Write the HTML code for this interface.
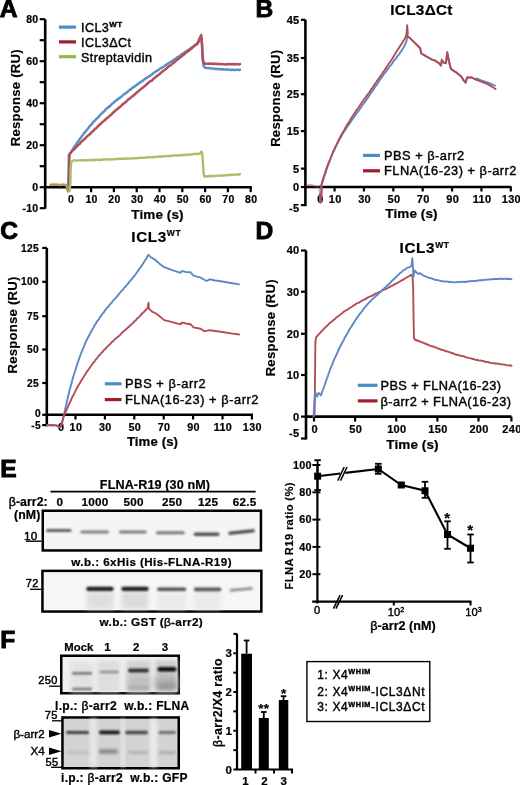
<!DOCTYPE html>
<html><head><meta charset="utf-8"><style>
html,body{margin:0;padding:0;background:#fff;width:520px;height:785px;overflow:hidden}
svg{display:block;filter:blur(0.3px)}
text{font-family:"Liberation Sans", sans-serif;fill:#000}
</style></head><body>
<svg width="520" height="785" viewBox="0 0 520 785">
<defs><filter id="b5" x="-20%" y="-200%" width="140%" height="500%"><feGaussianBlur stdDeviation="0.5"/></filter><filter id="b8" x="-20%" y="-200%" width="140%" height="500%"><feGaussianBlur stdDeviation="0.8"/></filter><filter id="b10" x="-20%" y="-200%" width="140%" height="500%"><feGaussianBlur stdDeviation="1.0"/></filter><filter id="b12" x="-20%" y="-200%" width="140%" height="500%"><feGaussianBlur stdDeviation="1.2"/></filter><filter id="b15" x="-20%" y="-200%" width="140%" height="500%"><feGaussianBlur stdDeviation="1.5"/></filter><filter id="b20" x="-20%" y="-200%" width="140%" height="500%"><feGaussianBlur stdDeviation="2.0"/></filter><filter id="b30" x="-20%" y="-200%" width="140%" height="500%"><feGaussianBlur stdDeviation="3.0"/></filter></defs>
<text x="-0.30" y="17.00" font-size="24.6" font-weight="bold" text-anchor="start" letter-spacing="0" stroke="#000" stroke-width="0.9" >A</text>
<text x="255.60" y="17.00" font-size="24.6" font-weight="bold" text-anchor="start" letter-spacing="0" stroke="#000" stroke-width="0.9" >B</text>
<text x="0.20" y="239.40" font-size="24.6" font-weight="bold" text-anchor="start" letter-spacing="0" stroke="#000" stroke-width="0.9" >C</text>
<text x="255.60" y="238.80" font-size="24.6" font-weight="bold" text-anchor="start" letter-spacing="0" stroke="#000" stroke-width="0.9" >D</text>
<text x="0.20" y="477.20" font-size="24.6" font-weight="bold" text-anchor="start" letter-spacing="0" stroke="#000" stroke-width="0.9" >E</text>
<text x="0.20" y="648.30" font-size="24.6" font-weight="bold" text-anchor="start" letter-spacing="0" stroke="#000" stroke-width="0.9" >F</text>
<line x1="45.20" y1="19.20" x2="45.20" y2="208.70" stroke="#000" stroke-width="2.6" />
<line x1="39.70" y1="208.20" x2="45.20" y2="208.20" stroke="#000" stroke-width="2.2" />
<line x1="39.70" y1="187.20" x2="45.20" y2="187.20" stroke="#000" stroke-width="2.2" />
<line x1="39.70" y1="166.20" x2="45.20" y2="166.20" stroke="#000" stroke-width="2.2" />
<line x1="39.70" y1="145.20" x2="45.20" y2="145.20" stroke="#000" stroke-width="2.2" />
<line x1="39.70" y1="124.20" x2="45.20" y2="124.20" stroke="#000" stroke-width="2.2" />
<line x1="39.70" y1="103.20" x2="45.20" y2="103.20" stroke="#000" stroke-width="2.2" />
<line x1="39.70" y1="82.20" x2="45.20" y2="82.20" stroke="#000" stroke-width="2.2" />
<line x1="39.70" y1="61.20" x2="45.20" y2="61.20" stroke="#000" stroke-width="2.2" />
<line x1="39.70" y1="40.20" x2="45.20" y2="40.20" stroke="#000" stroke-width="2.2" />
<line x1="39.70" y1="19.20" x2="45.20" y2="19.20" stroke="#000" stroke-width="2.2" />
<text x="38.50" y="22.80" font-size="10.5" font-weight="bold" text-anchor="end" letter-spacing="0.3" stroke="#000" stroke-width="0.22" >80</text>
<text x="38.50" y="64.80" font-size="10.5" font-weight="bold" text-anchor="end" letter-spacing="0.3" stroke="#000" stroke-width="0.22" >60</text>
<text x="38.50" y="106.80" font-size="10.5" font-weight="bold" text-anchor="end" letter-spacing="0.3" stroke="#000" stroke-width="0.22" >40</text>
<text x="38.50" y="148.80" font-size="10.5" font-weight="bold" text-anchor="end" letter-spacing="0.3" stroke="#000" stroke-width="0.22" >20</text>
<text x="38.50" y="190.80" font-size="10.5" font-weight="bold" text-anchor="end" letter-spacing="0.3" stroke="#000" stroke-width="0.22" >0</text>
<text x="38.50" y="211.80" font-size="10.5" font-weight="bold" text-anchor="end" letter-spacing="0.3" stroke="#000" stroke-width="0.22" >-10</text>
<line x1="45.20" y1="187.20" x2="251.80" y2="187.20" stroke="#000" stroke-width="2.6" />
<line x1="68.30" y1="187.20" x2="68.30" y2="192.20" stroke="#000" stroke-width="2.2" />
<text x="71.10" y="202.80" font-size="10.5" font-weight="bold" text-anchor="middle" letter-spacing="0.3" stroke="#000" stroke-width="0.22" >0</text>
<line x1="91.10" y1="187.20" x2="91.10" y2="192.20" stroke="#000" stroke-width="2.2" />
<text x="91.60" y="202.80" font-size="10.5" font-weight="bold" text-anchor="middle" letter-spacing="0.3" stroke="#000" stroke-width="0.22" >10</text>
<line x1="113.90" y1="187.20" x2="113.90" y2="192.20" stroke="#000" stroke-width="2.2" />
<text x="114.40" y="202.80" font-size="10.5" font-weight="bold" text-anchor="middle" letter-spacing="0.3" stroke="#000" stroke-width="0.22" >20</text>
<line x1="136.70" y1="187.20" x2="136.70" y2="192.20" stroke="#000" stroke-width="2.2" />
<text x="137.20" y="202.80" font-size="10.5" font-weight="bold" text-anchor="middle" letter-spacing="0.3" stroke="#000" stroke-width="0.22" >30</text>
<line x1="159.50" y1="187.20" x2="159.50" y2="192.20" stroke="#000" stroke-width="2.2" />
<text x="160.00" y="202.80" font-size="10.5" font-weight="bold" text-anchor="middle" letter-spacing="0.3" stroke="#000" stroke-width="0.22" >40</text>
<line x1="182.30" y1="187.20" x2="182.30" y2="192.20" stroke="#000" stroke-width="2.2" />
<text x="182.80" y="202.80" font-size="10.5" font-weight="bold" text-anchor="middle" letter-spacing="0.3" stroke="#000" stroke-width="0.22" >50</text>
<line x1="205.10" y1="187.20" x2="205.10" y2="192.20" stroke="#000" stroke-width="2.2" />
<text x="205.60" y="202.80" font-size="10.5" font-weight="bold" text-anchor="middle" letter-spacing="0.3" stroke="#000" stroke-width="0.22" >60</text>
<line x1="227.90" y1="187.20" x2="227.90" y2="192.20" stroke="#000" stroke-width="2.2" />
<text x="228.40" y="202.80" font-size="10.5" font-weight="bold" text-anchor="middle" letter-spacing="0.3" stroke="#000" stroke-width="0.22" >70</text>
<line x1="250.70" y1="187.20" x2="250.70" y2="192.20" stroke="#000" stroke-width="2.2" />
<text x="251.20" y="202.80" font-size="10.5" font-weight="bold" text-anchor="middle" letter-spacing="0.3" stroke="#000" stroke-width="0.22" >80</text>
<text x="157.50" y="219.30" font-size="13.5" font-weight="bold" text-anchor="middle" letter-spacing="0.1" stroke="#000" stroke-width="0.22" >Time (s)</text>
<text transform="translate(15.40,97.70) rotate(-90)" font-size="13.2" font-weight="bold" text-anchor="middle" dominant-baseline="central" letter-spacing="0.2" stroke="#000" stroke-width="0.15">Response (RU)</text>
<line x1="59.00" y1="27.10" x2="76.00" y2="27.10" stroke="#4a8cc8" stroke-width="3.2" />
<text x="81.00" y="32.10" font-size="12.6" font-weight="normal" text-anchor="start" letter-spacing="0.4" stroke="#000" stroke-width="0.4" >ICL3<tspan font-size="8" font-weight="bold" dy="-5">WT</tspan></text>
<line x1="59.00" y1="41.90" x2="76.00" y2="41.90" stroke="#9e1e2c" stroke-width="3.2" />
<text x="81.00" y="46.90" font-size="12.6" font-weight="normal" text-anchor="start" letter-spacing="0.4" stroke="#000" stroke-width="0.4" >ICL3ΔCt</text>
<line x1="59.00" y1="56.70" x2="76.00" y2="56.70" stroke="#93b84a" stroke-width="3.2" />
<text x="81.00" y="61.70" font-size="12.6" font-weight="normal" text-anchor="start" letter-spacing="0.4" stroke="#000" stroke-width="0.4" >Streptavidin</text>
<polyline points="67.50,189.50 68.30,191.00 68.60,175.00 68.80,162.00 68.80,155.57 69.80,154.11 70.80,152.38 71.80,150.92 72.80,149.37 73.80,147.49 74.80,145.94 75.80,144.94 76.80,143.12 77.80,141.66 78.80,140.70 79.80,138.98 80.80,137.83 81.80,136.26 82.80,135.03 83.80,133.43 84.80,132.43 85.80,131.30 86.80,129.85 87.80,128.76 88.80,127.51 89.80,125.96 90.80,125.21 91.80,123.96 92.80,122.66 93.80,121.38 94.80,120.79 95.80,119.47 96.80,118.56 97.80,117.61 98.80,116.48 99.80,115.59 100.80,114.27 101.80,113.53 102.80,112.34 103.80,111.68 104.80,110.70 105.80,109.30 106.80,108.40 107.80,107.54 108.80,107.09 109.80,105.89 110.80,105.13 111.80,104.07 112.80,103.34 113.80,102.42 114.80,101.56 115.80,100.87 116.80,100.05 117.80,99.43 118.80,98.49 119.80,97.84 120.80,97.01 121.80,96.30 122.80,95.33 123.80,94.25 124.80,93.90 125.80,93.20 126.80,92.41 127.80,91.45 128.80,90.79 129.80,89.74 130.80,89.37 131.80,88.48 132.80,87.57 133.80,86.71 134.80,86.46 135.80,85.82 136.80,84.56 137.80,84.27 138.80,83.32 139.80,82.46 140.80,81.84 141.80,81.42 142.80,80.79 143.80,79.59 144.80,79.24 145.80,78.21 146.80,77.93 147.80,77.01 148.80,76.65 149.80,76.03 150.80,75.07 151.80,74.69 152.80,73.60 153.80,72.78 154.80,72.42 155.80,71.41 156.80,70.84 157.80,70.30 158.80,69.75 159.80,68.81 160.80,68.08 161.80,67.91 162.80,66.91 163.80,66.64 164.80,65.94 165.80,64.96 166.80,64.35 167.80,63.72 168.80,63.13 169.80,62.44 170.80,61.76 171.80,61.13 172.80,60.66 173.80,59.73 174.80,59.02 175.80,58.53 176.80,57.57 177.80,56.94 178.80,56.68 179.80,55.74 180.80,55.08 181.80,54.09 182.80,53.65 183.80,53.08 184.80,52.06 185.80,51.74 186.80,51.06 187.80,50.04 188.80,49.69 189.80,48.90 190.80,48.34 191.80,47.45 192.80,46.96 193.80,46.28 194.80,45.15 195.80,44.47 196.80,44.13 197.30,43.94 199.00,41.00 200.60,37.50 201.40,37.00 202.00,45.00 202.70,60.00 203.60,66.00 205.00,67.60 205.00,67.45 206.00,67.73 207.00,67.97 208.00,67.95 209.00,68.11 210.00,68.21 211.00,68.37 212.00,68.62 213.00,68.55 214.00,68.70 215.00,69.03 216.00,68.67 217.00,69.08 218.00,69.26 219.00,69.07 220.00,69.09 221.00,69.50 222.00,69.22 223.00,69.24 224.00,69.44 225.00,69.65 226.00,69.33 227.00,69.51 228.00,69.55 229.00,69.89 230.00,69.68 231.00,69.96 232.00,69.58 233.00,69.71 234.00,69.93 235.00,70.10 236.00,69.86 237.00,69.76 238.00,69.72 239.00,69.99 240.00,69.82" fill="none" stroke="#5b90c6" stroke-width="2.5" stroke-linejoin="round" stroke-linecap="round" />
<polyline points="67.50,189.50 68.30,191.00 68.90,175.00 69.20,162.00 69.60,153.95 70.60,152.95 71.60,151.54 72.60,150.59 73.60,149.89 74.60,148.79 75.60,147.89 76.60,146.62 77.60,145.50 78.60,144.61 79.60,143.92 80.60,142.63 81.60,141.70 82.60,140.77 83.60,139.80 84.60,138.83 85.60,138.17 86.60,136.75 87.60,135.71 88.60,135.32 89.60,134.34 90.60,133.46 91.60,132.18 92.60,131.56 93.60,130.61 94.60,129.25 95.60,128.64 96.60,127.77 97.60,126.74 98.60,125.74 99.60,124.69 100.60,123.81 101.60,122.83 102.60,121.83 103.60,121.24 104.60,120.15 105.60,119.57 106.60,118.22 107.60,117.84 108.60,116.82 109.60,116.08 110.60,115.17 111.60,114.30 112.60,113.22 113.60,112.01 114.60,111.57 115.60,110.36 116.60,109.56 117.60,108.92 118.60,107.97 119.60,107.04 120.60,106.49 121.60,105.44 122.60,104.42 123.60,103.51 124.60,103.03 125.60,101.95 126.60,101.28 127.60,100.18 128.60,99.24 129.60,98.60 130.60,97.93 131.60,96.71 132.60,96.24 133.60,95.48 134.60,94.58 135.60,93.76 136.60,92.44 137.60,91.98 138.60,91.30 139.60,89.98 140.60,89.29 141.60,88.47 142.60,87.80 143.60,86.92 144.60,86.13 145.60,85.49 146.60,84.21 147.60,83.42 148.60,82.65 149.60,81.84 150.60,80.99 151.60,80.72 152.60,79.84 153.60,78.57 154.60,78.01 155.60,77.09 156.60,76.28 157.60,75.49 158.60,74.87 159.60,74.02 160.60,73.08 161.60,72.18 162.60,71.46 163.60,70.53 164.60,69.98 165.60,69.28 166.60,68.27 167.60,67.29 168.60,66.55 169.60,65.86 170.60,65.20 171.60,64.51 172.60,63.46 173.60,62.91 174.60,62.01 175.60,61.09 176.60,60.25 177.60,59.53 178.60,58.85 179.60,57.88 180.60,57.24 181.60,56.30 182.60,55.36 183.60,54.73 184.60,54.03 185.60,52.85 186.60,52.26 187.60,51.45 188.60,50.92 189.60,50.15 190.60,49.00 191.60,48.51 192.60,47.64 193.60,46.51 194.60,45.82 195.60,44.81 196.60,44.41 197.30,43.75 199.00,40.00 200.50,36.50 201.20,35.00 201.90,42.00 202.70,57.00 203.50,62.50 205.00,63.40 205.00,63.64 206.00,63.67 207.00,63.68 208.00,63.79 209.00,63.76 210.00,63.54 211.00,63.89 212.00,63.59 213.00,63.72 214.00,64.13 215.00,63.73 216.00,63.79 217.00,63.82 218.00,64.31 219.00,63.91 220.00,63.83 221.00,64.34 222.00,63.92 223.00,64.36 224.00,64.27 225.00,64.37 226.00,64.44 227.00,64.22 228.00,64.36 229.00,63.91 230.00,64.35 231.00,64.20 232.00,64.33 233.00,63.97 234.00,64.36 235.00,64.48 236.00,63.97 237.00,64.14 238.00,64.30 239.00,64.48 240.00,64.15" fill="none" stroke="#b24f58" stroke-width="2.5" stroke-linejoin="round" stroke-linecap="round" />
<polyline points="69.50,190.50 70.40,184.00 70.60,170.00 71.20,162.50 72.50,160.90 74.20,160.50 74.20,160.33 75.20,160.35 76.20,160.55 77.20,160.61 78.20,160.37 79.20,160.33 80.20,160.32 81.20,160.27 82.20,160.28 83.20,160.06 84.20,160.28 85.20,160.53 86.20,160.17 87.20,160.34 88.20,159.96 89.20,160.25 90.20,160.26 91.20,160.18 92.20,160.05 93.20,160.00 94.20,160.06 95.20,160.18 96.20,159.70 97.20,159.63 98.20,159.98 99.20,160.05 100.20,159.77 101.20,159.69 102.20,159.82 103.20,159.46 104.20,159.47 105.20,159.39 106.20,159.59 107.20,159.38 108.20,159.29 109.20,159.53 110.20,159.64 111.20,159.20 112.20,159.41 113.20,159.19 114.20,159.41 115.20,159.20 116.20,158.97 117.20,158.89 118.20,158.73 119.20,158.96 120.20,158.85 121.20,158.68 122.20,158.74 123.20,158.67 124.20,158.89 125.20,158.46 126.20,158.92 127.20,158.56 128.20,158.59 129.20,158.45 130.20,158.62 131.20,158.56 132.20,158.35 133.20,158.25 134.20,158.34 135.20,158.37 136.20,158.04 137.20,158.18 138.20,158.26 139.20,157.91 140.20,157.71 141.20,157.65 142.20,157.88 143.20,157.80 144.20,157.91 145.20,157.79 146.20,157.36 147.20,157.27 148.20,157.25 149.20,157.14 150.20,157.39 151.20,157.42 152.20,157.38 153.20,156.93 154.20,157.23 155.20,156.84 156.20,156.84 157.20,156.96 158.20,156.50 159.20,156.44 160.20,156.82 161.20,156.43 162.20,156.40 163.20,156.46 164.20,156.45 165.20,155.98 166.20,156.11 167.20,156.10 168.20,156.06 169.20,155.82 170.20,155.97 171.20,156.12 172.20,155.71 173.20,155.73 174.20,155.40 175.20,155.42 176.20,155.58 177.20,155.17 178.20,155.56 179.20,155.50 180.20,154.94 181.20,155.37 182.20,154.95 183.20,155.11 184.20,155.02 185.20,154.67 186.20,154.82 187.20,154.73 188.20,154.74 189.20,154.33 190.20,154.55 191.20,154.59 192.20,154.33 193.20,154.17 194.20,153.83 195.20,153.98 196.20,153.81 197.20,153.95 198.20,153.84 199.20,153.69 200.00,153.39 200.80,152.50 201.50,151.50 202.20,153.50 202.90,162.00 203.50,172.00 204.30,176.40 204.30,176.50 205.30,176.45 206.30,176.14 207.30,176.53 208.30,176.34 209.30,175.98 210.30,176.42 211.30,175.90 212.30,175.96 213.30,176.14 214.30,176.01 215.30,175.93 216.30,175.93 217.30,175.76 218.30,175.62 219.30,175.48 220.30,175.35 221.30,175.68 222.30,175.64 223.30,175.45 224.30,175.50 225.30,175.21 226.30,175.09 227.30,175.09 228.30,175.32 229.30,174.75 230.30,174.96 231.30,174.74 232.30,174.99 233.30,174.67 234.30,174.59 235.30,174.56 236.30,174.58 237.30,174.65 238.30,174.33 239.30,174.56 240.00,174.07" fill="none" stroke="#a8c06a" stroke-width="2.4" stroke-linejoin="round" stroke-linecap="round" />
<polyline points="50.50,184.80 55.00,184.50 60.00,184.90 64.00,184.60 66.50,185.50 67.50,189.50 68.30,191.00" fill="none" stroke="#a99d62" stroke-width="2.5" stroke-linejoin="round" stroke-linecap="round" />
<line x1="305.40" y1="19.80" x2="305.40" y2="206.10" stroke="#000" stroke-width="2.6" />
<line x1="300.90" y1="19.80" x2="305.40" y2="19.80" stroke="#000" stroke-width="2.2" />
<text x="299.50" y="23.70" font-size="11" font-weight="bold" text-anchor="end" letter-spacing="0.3" stroke="#000" stroke-width="0.22" >45</text>
<line x1="300.90" y1="58.00" x2="305.40" y2="58.00" stroke="#000" stroke-width="2.2" />
<text x="299.50" y="61.90" font-size="11" font-weight="bold" text-anchor="end" letter-spacing="0.3" stroke="#000" stroke-width="0.22" >35</text>
<line x1="300.90" y1="94.20" x2="305.40" y2="94.20" stroke="#000" stroke-width="2.2" />
<text x="299.50" y="98.10" font-size="11" font-weight="bold" text-anchor="end" letter-spacing="0.3" stroke="#000" stroke-width="0.22" >25</text>
<line x1="300.90" y1="131.10" x2="305.40" y2="131.10" stroke="#000" stroke-width="2.2" />
<text x="299.50" y="135.00" font-size="11" font-weight="bold" text-anchor="end" letter-spacing="0.3" stroke="#000" stroke-width="0.22" >15</text>
<line x1="300.90" y1="168.60" x2="305.40" y2="168.60" stroke="#000" stroke-width="2.2" />
<text x="299.50" y="172.50" font-size="11" font-weight="bold" text-anchor="end" letter-spacing="0.3" stroke="#000" stroke-width="0.22" >5</text>
<line x1="300.90" y1="187.00" x2="305.40" y2="187.00" stroke="#000" stroke-width="2.2" />
<text x="299.50" y="190.90" font-size="11" font-weight="bold" text-anchor="end" letter-spacing="0.3" stroke="#000" stroke-width="0.22" >0</text>
<line x1="300.90" y1="205.10" x2="305.40" y2="205.10" stroke="#000" stroke-width="2.2" />
<text x="299.50" y="212.30" font-size="11" font-weight="bold" text-anchor="end" letter-spacing="0.3" stroke="#000" stroke-width="0.22" >-5</text>
<line x1="305.40" y1="187.00" x2="511.50" y2="187.00" stroke="#000" stroke-width="2.6" />
<text x="320.50" y="202.60" font-size="11" font-weight="bold" text-anchor="middle" letter-spacing="0.3" stroke="#000" stroke-width="0.22" >0</text>
<line x1="334.58" y1="187.00" x2="334.58" y2="191.50" stroke="#000" stroke-width="2.2" />
<text x="335.19" y="202.60" font-size="11" font-weight="bold" text-anchor="middle" letter-spacing="0.3" stroke="#000" stroke-width="0.22" >10</text>
<line x1="363.95" y1="187.00" x2="363.95" y2="191.50" stroke="#000" stroke-width="2.2" />
<text x="364.56" y="202.60" font-size="11" font-weight="bold" text-anchor="middle" letter-spacing="0.3" stroke="#000" stroke-width="0.22" >30</text>
<line x1="393.32" y1="187.00" x2="393.32" y2="191.50" stroke="#000" stroke-width="2.2" />
<text x="393.93" y="202.60" font-size="11" font-weight="bold" text-anchor="middle" letter-spacing="0.3" stroke="#000" stroke-width="0.22" >50</text>
<line x1="422.69" y1="187.00" x2="422.69" y2="191.50" stroke="#000" stroke-width="2.2" />
<text x="423.29" y="202.60" font-size="11" font-weight="bold" text-anchor="middle" letter-spacing="0.3" stroke="#000" stroke-width="0.22" >70</text>
<line x1="452.06" y1="187.00" x2="452.06" y2="191.50" stroke="#000" stroke-width="2.2" />
<text x="452.66" y="202.60" font-size="11" font-weight="bold" text-anchor="middle" letter-spacing="0.3" stroke="#000" stroke-width="0.22" >90</text>
<line x1="481.43" y1="187.00" x2="481.43" y2="191.50" stroke="#000" stroke-width="2.2" />
<text x="482.03" y="202.60" font-size="11" font-weight="bold" text-anchor="middle" letter-spacing="0.3" stroke="#000" stroke-width="0.22" >110</text>
<line x1="510.80" y1="187.00" x2="510.80" y2="191.50" stroke="#000" stroke-width="2.2" />
<text x="511.40" y="202.60" font-size="11" font-weight="bold" text-anchor="middle" letter-spacing="0.3" stroke="#000" stroke-width="0.22" >130</text>
<text x="411.50" y="218.00" font-size="13.5" font-weight="bold" text-anchor="middle" letter-spacing="0.1" stroke="#000" stroke-width="0.22" >Time (s)</text>
<text transform="translate(275.80,98.30) rotate(-90)" font-size="13.2" font-weight="bold" text-anchor="middle" dominant-baseline="central" letter-spacing="0.2" stroke="#000" stroke-width="0.15">Response (RU)</text>
<text x="421.50" y="15.00" font-size="15.3" font-weight="bold" text-anchor="middle" letter-spacing="0.3" stroke="#000" stroke-width="0.22" >ICL3ΔCt</text>
<line x1="363.00" y1="155.40" x2="380.00" y2="155.40" stroke="#4a8cc8" stroke-width="3.2" />
<text x="384.00" y="160.00" font-size="12.8" font-weight="normal" text-anchor="start" letter-spacing="0.5" stroke="#000" stroke-width="0.4" >PBS + β-arr2</text>
<line x1="363.00" y1="170.80" x2="380.00" y2="170.80" stroke="#9e1e2c" stroke-width="3.2" />
<text x="384.00" y="175.40" font-size="12.8" font-weight="normal" text-anchor="start" letter-spacing="0.5" stroke="#000" stroke-width="0.4" >FLNA(16-23) + β-arr2</text>
<polyline points="307.00,185.20 310.60,184.70 315.00,186.20 319.20,187.60 320.00,194.00" fill="none" stroke="#b44c56" stroke-width="1.9" stroke-linejoin="round" stroke-linecap="round" opacity="0.45"/>
<polyline points="320.00,194.00 320.70,202.50 321.30,196.00 321.60,190.00 321.40,185.69 322.40,182.47 323.40,178.99 324.40,175.69 325.40,173.08 326.40,170.03 327.40,166.98 328.40,164.24 329.40,161.70 330.40,159.19 331.40,156.51 332.40,154.00 333.40,151.84 334.40,149.97 335.40,147.45 336.40,145.58 337.40,143.43 338.40,141.51 339.40,139.61 340.40,137.94 341.40,136.04 342.40,134.25 343.40,132.64 344.40,131.06 345.40,129.67 346.40,127.87 347.40,126.34 348.40,125.12 349.40,123.64 350.40,122.38 351.40,120.57 352.40,119.38 353.40,117.99 354.40,116.38 355.40,115.57 356.40,113.74 357.40,112.29 358.40,111.12 359.40,109.54 360.40,108.41 361.40,106.83 362.40,105.28 363.40,103.81 364.40,102.78 365.40,101.07 366.40,99.94 367.40,98.30 368.40,97.13 369.40,95.30 370.40,93.82 371.40,92.38 372.40,91.25 373.40,89.69 374.40,88.07 375.40,86.46 376.40,85.37 377.40,84.09 378.40,82.43 379.40,80.63 380.40,79.22 381.40,77.83 382.40,76.45 383.40,74.96 384.40,73.56 385.40,72.52 386.40,71.27 387.40,69.47 388.40,68.56 389.40,66.90 390.40,65.75 391.40,64.48 392.40,63.17 393.40,61.31 394.40,60.18 395.40,59.07 396.40,58.01 397.40,56.23 398.40,55.07 399.40,54.07 400.40,52.24 401.40,50.92 402.40,49.28 403.40,47.75 404.40,45.99 405.40,43.44 406.30,41.71 407.20,37.50 407.20,36.20 409.20,37.30 413.80,41.90 418.50,46.50 420.20,48.30 421.30,53.50 425.40,55.80 432.30,59.80 434.60,60.40 439.20,63.30 441.00,65.60 441.80,59.80 443.80,62.70 445.90,63.30 447.30,52.30 449.00,61.50 450.80,68.50 452.30,70.00 456.90,72.90 461.00,76.30 463.30,79.80 465.60,82.70 467.10,77.50 471.90,77.50 476.50,79.80 476.50,78.50 481.20,80.40 488.10,82.70 495.00,85.60" fill="none" stroke="#5c88c6" stroke-width="1.9" stroke-linejoin="round" stroke-linecap="round" />
<polyline points="320.00,194.00 320.70,202.50 321.30,196.00 321.60,190.00 321.20,185.15 322.20,181.67 323.20,178.42 324.20,175.67 325.20,172.61 326.20,169.36 327.20,166.54 328.20,163.94 329.20,161.50 330.20,159.00 331.20,156.49 332.20,154.01 333.20,151.43 334.20,149.34 335.20,147.04 336.20,145.12 337.20,143.08 338.20,140.85 339.20,138.92 340.20,137.31 341.20,134.98 342.20,133.60 343.20,131.84 344.20,130.11 345.20,128.03 346.20,126.43 347.20,124.77 348.20,123.16 349.20,121.74 350.20,119.98 351.20,118.17 352.20,116.96 353.20,115.21 354.20,113.78 355.20,112.36 356.20,110.45 357.20,109.46 358.20,107.94 359.20,106.41 360.20,105.00 361.20,103.54 362.20,101.97 363.20,100.76 364.20,99.06 365.20,97.93 366.20,96.62 367.20,95.09 368.20,93.75 369.20,92.57 370.20,91.12 371.20,89.24 372.20,88.22 373.20,86.69 374.20,84.91 375.20,83.66 376.20,82.15 377.20,80.61 378.20,79.44 379.20,78.22 380.20,76.40 381.20,75.26 382.20,73.69 383.20,71.88 384.20,70.83 385.20,69.19 386.20,67.89 387.20,66.26 388.20,64.77 389.20,63.02 390.20,61.78 391.20,60.33 392.20,58.75 393.20,56.95 394.20,55.59 395.20,53.87 396.20,52.08 397.20,50.46 398.20,48.90 399.20,47.38 400.20,45.76 401.20,44.35 402.20,42.85 403.20,41.12 404.20,39.41 405.20,37.90 405.80,36.70 406.60,33.00 407.20,25.20 407.80,33.00 407.20,36.20 409.20,37.30 413.80,41.90 418.50,46.50 420.20,48.30 421.30,53.50 425.40,55.80 432.30,59.80 434.60,60.40 439.20,63.30 441.00,65.60 441.80,59.80 443.80,62.70 445.90,63.30 447.30,52.30 449.00,61.50 450.80,68.50 452.30,70.00 456.90,72.90 461.00,76.30 463.30,79.80 465.60,82.70 467.10,77.50 471.90,77.50 476.50,79.80 481.20,81.50 488.10,84.40 495.60,89.00" fill="none" stroke="#b44c56" stroke-width="1.9" stroke-linejoin="round" stroke-linecap="round" />
<line x1="46.80" y1="247.90" x2="46.80" y2="426.30" stroke="#000" stroke-width="2.6" />
<line x1="42.20" y1="247.90" x2="46.80" y2="247.90" stroke="#000" stroke-width="2.2" />
<text x="39.00" y="251.50" font-size="10.2" font-weight="bold" text-anchor="end" letter-spacing="0.3" stroke="#000" stroke-width="0.22" >125</text>
<line x1="42.20" y1="281.80" x2="46.80" y2="281.80" stroke="#000" stroke-width="2.2" />
<text x="39.00" y="285.40" font-size="10.2" font-weight="bold" text-anchor="end" letter-spacing="0.3" stroke="#000" stroke-width="0.22" >100</text>
<line x1="42.20" y1="316.20" x2="46.80" y2="316.20" stroke="#000" stroke-width="2.2" />
<text x="39.00" y="319.80" font-size="10.2" font-weight="bold" text-anchor="end" letter-spacing="0.3" stroke="#000" stroke-width="0.22" >75</text>
<line x1="42.20" y1="349.50" x2="46.80" y2="349.50" stroke="#000" stroke-width="2.2" />
<text x="39.00" y="353.10" font-size="10.2" font-weight="bold" text-anchor="end" letter-spacing="0.3" stroke="#000" stroke-width="0.22" >50</text>
<line x1="42.20" y1="383.00" x2="46.80" y2="383.00" stroke="#000" stroke-width="2.2" />
<text x="39.00" y="386.60" font-size="10.2" font-weight="bold" text-anchor="end" letter-spacing="0.3" stroke="#000" stroke-width="0.22" >25</text>
<line x1="42.20" y1="414.80" x2="46.80" y2="414.80" stroke="#000" stroke-width="2.2" />
<text x="41.00" y="417.20" font-size="10.2" font-weight="bold" text-anchor="end" letter-spacing="0.3" stroke="#000" stroke-width="0.22" >0</text>
<line x1="42.20" y1="425.10" x2="46.80" y2="425.10" stroke="#000" stroke-width="2.2" />
<text x="41.00" y="428.70" font-size="10.2" font-weight="bold" text-anchor="end" letter-spacing="0.3" stroke="#000" stroke-width="0.22" >-5</text>
<line x1="46.80" y1="414.80" x2="253.00" y2="414.80" stroke="#000" stroke-width="2.6" />
<text x="61.20" y="430.80" font-size="10.8" font-weight="bold" text-anchor="middle" letter-spacing="0.3" stroke="#000" stroke-width="0.22" >0</text>
<line x1="75.50" y1="414.80" x2="75.50" y2="419.50" stroke="#000" stroke-width="2.2" />
<text x="75.90" y="430.80" font-size="10.8" font-weight="bold" text-anchor="middle" letter-spacing="0.3" stroke="#000" stroke-width="0.22" >10</text>
<line x1="104.90" y1="414.80" x2="104.90" y2="419.50" stroke="#000" stroke-width="2.2" />
<text x="105.30" y="430.80" font-size="10.8" font-weight="bold" text-anchor="middle" letter-spacing="0.3" stroke="#000" stroke-width="0.22" >30</text>
<line x1="134.30" y1="414.80" x2="134.30" y2="419.50" stroke="#000" stroke-width="2.2" />
<text x="134.70" y="430.80" font-size="10.8" font-weight="bold" text-anchor="middle" letter-spacing="0.3" stroke="#000" stroke-width="0.22" >50</text>
<line x1="163.70" y1="414.80" x2="163.70" y2="419.50" stroke="#000" stroke-width="2.2" />
<text x="164.10" y="430.80" font-size="10.8" font-weight="bold" text-anchor="middle" letter-spacing="0.3" stroke="#000" stroke-width="0.22" >70</text>
<line x1="193.10" y1="414.80" x2="193.10" y2="419.50" stroke="#000" stroke-width="2.2" />
<text x="193.50" y="430.80" font-size="10.8" font-weight="bold" text-anchor="middle" letter-spacing="0.3" stroke="#000" stroke-width="0.22" >90</text>
<line x1="222.50" y1="414.80" x2="222.50" y2="419.50" stroke="#000" stroke-width="2.2" />
<text x="222.90" y="430.80" font-size="10.8" font-weight="bold" text-anchor="middle" letter-spacing="0.3" stroke="#000" stroke-width="0.22" >110</text>
<line x1="251.90" y1="414.80" x2="251.90" y2="419.50" stroke="#000" stroke-width="2.2" />
<text x="252.30" y="430.80" font-size="10.8" font-weight="bold" text-anchor="middle" letter-spacing="0.3" stroke="#000" stroke-width="0.22" >130</text>
<text x="152.50" y="445.50" font-size="13.2" font-weight="bold" text-anchor="middle" letter-spacing="0.1" stroke="#000" stroke-width="0.22" >Time (s)</text>
<text transform="translate(12.30,325.00) rotate(-90)" font-size="13.2" font-weight="bold" text-anchor="middle" dominant-baseline="central" letter-spacing="0.2" stroke="#000" stroke-width="0.15">Response (RU)</text>
<text x="131.30" y="241.80" font-size="15.3" font-weight="bold" text-anchor="start" letter-spacing="0.6" stroke="#000" stroke-width="0.22" >ICL3<tspan font-size="8.5" dy="-5.5">WT</tspan></text>
<line x1="104.80" y1="383.80" x2="121.50" y2="383.80" stroke="#4a8cc8" stroke-width="3.2" />
<text x="125.00" y="388.20" font-size="12.8" font-weight="normal" text-anchor="start" letter-spacing="0.55" stroke="#000" stroke-width="0.4" >PBS + β-arr2</text>
<line x1="104.80" y1="399.60" x2="121.50" y2="399.60" stroke="#9e1e2c" stroke-width="3.2" />
<text x="125.00" y="404.00" font-size="12.8" font-weight="normal" text-anchor="start" letter-spacing="0.55" stroke="#000" stroke-width="0.4" >FLNA(16-23) + β-arr2</text>
<polyline points="47.00,425.10 50.00,425.30 54.00,425.10 57.00,425.60 59.00,426.80 60.50,427.20 61.80,424.00 63.20,418.00 63.70,416.02 64.70,411.40 65.70,406.70 66.70,402.54 67.70,397.97 68.70,393.90 69.70,389.83 70.70,386.32 71.70,382.44 72.70,378.74 73.70,375.23 74.70,372.22 75.70,368.94 76.70,365.90 77.70,362.71 78.70,359.88 79.70,356.89 80.70,354.53 81.70,351.53 82.70,349.30 83.70,347.06 84.70,344.69 85.70,342.10 86.70,340.02 87.70,338.30 88.70,336.17 89.70,334.37 90.70,332.48 91.70,330.42 92.70,328.93 93.70,327.13 94.70,325.25 95.70,323.67 96.70,321.94 97.70,320.63 98.70,319.49 99.70,317.55 100.70,316.43 101.70,314.79 102.70,313.42 103.70,312.45 104.70,310.90 105.70,309.51 106.70,308.31 107.70,307.36 108.70,306.10 109.70,304.55 110.70,303.48 111.70,302.74 112.70,301.11 113.70,300.15 114.70,298.91 115.70,297.97 116.70,296.72 117.70,295.69 118.70,294.40 119.70,293.05 120.70,291.90 121.70,290.70 122.70,290.00 123.70,288.43 124.70,287.22 125.70,286.62 126.70,284.99 127.70,284.22 128.70,282.55 129.70,281.57 130.70,280.20 131.70,279.33 132.70,277.95 133.70,276.69 134.70,275.47 135.70,274.23 136.70,272.58 137.70,271.37 138.70,269.89 139.70,268.28 140.70,267.28 141.70,265.67 142.70,264.30 143.70,262.40 144.70,261.04 145.70,259.39 146.70,257.92 147.50,256.19 148.50,254.70 150.50,257.00 154.10,259.10 160.20,264.20 164.20,267.20 172.30,270.20 180.40,272.90 181.50,271.30 183.40,271.30 186.00,272.00 190.50,272.30 193.50,275.70 200.60,277.70 206.60,281.00 209.70,279.30 215.00,280.50 220.80,281.30 230.90,283.00 239.00,284.40" fill="none" stroke="#5c88c6" stroke-width="1.9" stroke-linejoin="round" stroke-linecap="round" />
<polyline points="47.00,425.10 50.00,425.30 54.00,425.10 57.00,425.60 59.00,426.80 60.50,427.20 61.80,424.00 63.20,418.00 63.90,416.08 64.90,413.73 65.90,411.10 66.90,409.05 67.90,406.88 68.90,404.46 69.90,402.41 70.90,400.25 71.90,397.92 72.90,395.95 73.90,394.34 74.90,391.98 75.90,390.13 76.90,388.05 77.90,386.29 78.90,384.47 79.90,383.17 80.90,381.34 81.90,379.75 82.90,378.17 83.90,376.35 84.90,374.97 85.90,373.19 86.90,371.62 87.90,370.47 88.90,369.00 89.90,367.62 90.90,365.96 91.90,364.78 92.90,363.24 93.90,362.29 94.90,360.98 95.90,359.35 96.90,358.52 97.90,356.87 98.90,355.64 99.90,354.86 100.90,353.47 101.90,352.49 102.90,351.47 103.90,350.03 104.90,349.40 105.90,348.07 106.90,347.14 107.90,346.07 108.90,345.31 109.90,344.33 110.90,343.08 111.90,342.00 112.90,341.17 113.90,340.29 114.90,339.15 115.90,338.27 116.90,337.71 117.90,336.76 118.90,336.01 119.90,335.10 120.90,334.13 121.90,332.93 122.90,331.90 123.90,331.09 124.90,330.28 125.90,329.41 126.90,328.52 127.90,327.50 128.90,326.88 129.90,325.62 130.90,324.81 131.90,324.13 132.90,323.14 133.90,321.89 134.90,320.90 135.90,320.27 136.90,318.82 137.90,317.90 138.90,317.14 139.90,316.13 140.90,314.87 141.90,313.76 142.90,312.79 143.90,312.05 144.90,310.77 145.90,309.96 146.90,308.71 147.50,308.13 148.00,306.00 148.50,302.60 148.90,308.60 152.10,311.60 156.00,313.50 160.20,316.70 164.20,320.10 172.30,322.10 180.40,324.40 181.50,322.70 183.40,322.70 186.00,323.50 190.50,324.20 193.50,327.40 200.60,328.80 204.60,331.40 209.70,330.20 215.00,331.00 220.80,331.80 230.90,333.40 239.00,334.50" fill="none" stroke="#b44c56" stroke-width="1.9" stroke-linejoin="round" stroke-linecap="round" />
<line x1="306.00" y1="250.50" x2="306.00" y2="439.50" stroke="#000" stroke-width="2.6" />
<line x1="301.00" y1="250.50" x2="306.00" y2="250.50" stroke="#000" stroke-width="2.2" />
<text x="299.50" y="254.40" font-size="11" font-weight="bold" text-anchor="end" letter-spacing="0.3" stroke="#000" stroke-width="0.22" >40</text>
<line x1="301.00" y1="291.70" x2="306.00" y2="291.70" stroke="#000" stroke-width="2.2" />
<text x="299.50" y="295.60" font-size="11" font-weight="bold" text-anchor="end" letter-spacing="0.3" stroke="#000" stroke-width="0.22" >30</text>
<line x1="301.00" y1="333.80" x2="306.00" y2="333.80" stroke="#000" stroke-width="2.2" />
<text x="299.50" y="337.70" font-size="11" font-weight="bold" text-anchor="end" letter-spacing="0.3" stroke="#000" stroke-width="0.22" >20</text>
<line x1="301.00" y1="375.00" x2="306.00" y2="375.00" stroke="#000" stroke-width="2.2" />
<text x="299.50" y="378.90" font-size="11" font-weight="bold" text-anchor="end" letter-spacing="0.3" stroke="#000" stroke-width="0.22" >10</text>
<line x1="301.00" y1="416.60" x2="306.00" y2="416.60" stroke="#000" stroke-width="2.2" />
<text x="299.50" y="420.50" font-size="11" font-weight="bold" text-anchor="end" letter-spacing="0.3" stroke="#000" stroke-width="0.22" >0</text>
<line x1="301.00" y1="438.50" x2="306.00" y2="438.50" stroke="#000" stroke-width="2.2" />
<text x="299.50" y="436.90" font-size="11" font-weight="bold" text-anchor="end" letter-spacing="0.3" stroke="#000" stroke-width="0.22" >-5</text>
<line x1="306.00" y1="416.60" x2="511.50" y2="416.60" stroke="#000" stroke-width="2.6" />
<line x1="314.00" y1="416.60" x2="314.00" y2="421.50" stroke="#000" stroke-width="2.2" />
<text x="314.60" y="433.20" font-size="11" font-weight="bold" text-anchor="middle" letter-spacing="0.3" stroke="#000" stroke-width="0.22" >0</text>
<line x1="355.12" y1="416.60" x2="355.12" y2="421.50" stroke="#000" stroke-width="2.2" />
<text x="355.73" y="433.20" font-size="11" font-weight="bold" text-anchor="middle" letter-spacing="0.3" stroke="#000" stroke-width="0.22" >50</text>
<line x1="396.25" y1="416.60" x2="396.25" y2="421.50" stroke="#000" stroke-width="2.2" />
<text x="396.85" y="433.20" font-size="11" font-weight="bold" text-anchor="middle" letter-spacing="0.3" stroke="#000" stroke-width="0.22" >100</text>
<line x1="437.38" y1="416.60" x2="437.38" y2="421.50" stroke="#000" stroke-width="2.2" />
<text x="437.98" y="433.20" font-size="11" font-weight="bold" text-anchor="middle" letter-spacing="0.3" stroke="#000" stroke-width="0.22" >150</text>
<line x1="478.50" y1="416.60" x2="478.50" y2="421.50" stroke="#000" stroke-width="2.2" />
<text x="479.10" y="433.20" font-size="11" font-weight="bold" text-anchor="middle" letter-spacing="0.3" stroke="#000" stroke-width="0.22" >200</text>
<line x1="511.40" y1="416.60" x2="511.40" y2="421.50" stroke="#000" stroke-width="2.2" />
<text x="512.00" y="433.20" font-size="11" font-weight="bold" text-anchor="middle" letter-spacing="0.3" stroke="#000" stroke-width="0.22" >240</text>
<text x="412.50" y="448.80" font-size="13.5" font-weight="bold" text-anchor="middle" letter-spacing="0.1" stroke="#000" stroke-width="0.22" >Time (s)</text>
<text transform="translate(270.80,327.80) rotate(-90)" font-size="13.2" font-weight="bold" text-anchor="middle" dominant-baseline="central" letter-spacing="0.2" stroke="#000" stroke-width="0.15">Response (RU)</text>
<text x="399.60" y="253.40" font-size="15.3" font-weight="bold" text-anchor="start" letter-spacing="0.6" stroke="#000" stroke-width="0.22" >ICL3<tspan font-size="8.5" dy="-5.5">WT</tspan></text>
<line x1="357.80" y1="385.30" x2="377.50" y2="385.30" stroke="#4a8cc8" stroke-width="3.2" />
<text x="380.50" y="389.90" font-size="12.8" font-weight="normal" text-anchor="start" letter-spacing="0.4" stroke="#000" stroke-width="0.4" >PBS + FLNA(16-23)</text>
<line x1="357.80" y1="400.90" x2="377.50" y2="400.90" stroke="#9e1e2c" stroke-width="3.2" />
<text x="380.50" y="405.50" font-size="12.8" font-weight="normal" text-anchor="start" letter-spacing="0.4" stroke="#000" stroke-width="0.4" >β-arr2 + FLNA(16-23)</text>
<polyline points="314.50,415.00 314.80,400.00 315.00,380.00 315.20,360.00 315.40,342.00 316.00,337.50 317.20,336.04 318.20,334.97 319.20,333.74 320.20,332.88 321.20,331.74 322.20,330.49 323.20,329.74 324.20,328.44 325.20,327.56 326.20,326.53 327.20,325.89 328.20,324.70 329.20,323.67 330.20,322.62 331.20,321.95 332.20,321.18 333.20,320.34 334.20,319.63 335.20,318.73 336.20,317.57 337.20,316.69 338.20,316.27 339.20,315.51 340.20,314.58 341.20,314.02 342.20,313.12 343.20,312.23 344.20,311.45 345.20,310.66 346.20,310.35 347.20,309.82 348.20,309.17 349.20,308.25 350.20,307.72 351.20,307.25 352.20,306.56 353.20,305.81 354.20,305.10 355.20,304.56 356.20,303.77 357.20,303.20 358.20,302.92 359.20,302.55 360.20,301.72 361.20,301.09 362.20,300.51 363.20,300.04 364.20,299.71 365.20,298.98 366.20,298.76 367.20,297.76 368.20,297.34 369.20,296.96 370.20,296.39 371.20,296.15 372.20,295.64 373.20,295.21 374.20,294.52 375.20,293.68 376.20,293.52 377.20,293.02 378.20,292.49 379.20,291.88 380.20,291.66 381.20,291.29 382.20,290.32 383.20,290.17 384.20,289.50 385.20,289.10 386.20,288.84 387.20,288.38 388.20,287.70 389.20,286.93 390.20,286.86 391.20,285.91 392.20,285.52 393.20,285.28 394.20,284.45 395.20,283.90 396.20,283.78 397.20,283.24 398.20,282.33 399.20,281.83 400.20,281.21 401.20,280.56 402.20,280.06 403.20,279.93 404.20,278.80 405.20,278.30 406.20,277.69 407.20,277.01 408.20,276.66 409.20,276.16 410.20,275.58 411.20,274.81 411.60,274.66 412.60,277.00 413.20,290.00 413.60,320.00 414.00,338.50 415.60,340.20 415.60,339.50 416.60,340.08 417.60,340.90 418.60,340.77 419.60,341.30 420.60,341.83 421.60,342.10 422.60,342.66 423.60,342.76 424.60,343.27 425.60,344.09 426.60,343.99 427.60,344.83 428.60,344.77 429.60,345.64 430.60,345.83 431.60,346.19 432.60,346.25 433.60,346.57 434.60,347.36 435.60,347.37 436.60,347.74 437.60,348.48 438.60,348.86 439.60,348.72 440.60,349.61 441.60,349.70 442.60,349.95 443.60,350.13 444.60,350.64 445.60,351.33 446.60,351.23 447.60,351.47 448.60,351.81 449.60,352.12 450.60,352.57 451.60,353.22 452.60,353.03 453.60,353.41 454.60,354.16 455.60,354.50 456.60,354.79 457.60,354.65 458.60,355.00 459.60,355.65 460.60,355.66 461.60,356.07 462.60,356.12 463.60,356.22 464.60,356.69 465.60,357.20 466.60,357.49 467.60,357.62 468.60,357.82 469.60,358.12 470.60,358.31 471.60,358.62 472.60,359.04 473.60,358.91 474.60,359.38 475.60,359.82 476.60,360.00 477.60,359.83 478.60,360.52 479.60,360.67 480.60,360.48 481.60,360.75 482.60,360.93 483.60,361.04 484.60,361.80 485.60,361.66 486.60,362.13 487.60,361.87 488.60,361.99 489.60,362.69 490.60,362.82 491.60,363.12 492.60,363.10 493.60,363.18 494.60,363.48 495.60,363.24 496.60,363.67 497.60,363.76 498.60,363.73 499.60,364.15 500.60,364.12 501.60,364.37 502.60,364.42 503.60,364.51 504.60,364.66 505.60,364.93 506.60,365.27 507.60,365.35 508.60,365.42 509.60,365.50 510.60,365.27 511.50,365.77" fill="none" stroke="#b44c56" stroke-width="1.9" stroke-linejoin="round" stroke-linecap="round" />
<polyline points="313.50,416.60 314.20,405.00 315.00,392.20 316.00,394.00 317.20,396.60 318.30,393.30 319.40,393.30 320.90,395.50 322.50,391.00 324.90,384.47 325.90,381.30 326.90,378.54 327.90,375.80 328.90,372.77 329.90,370.26 330.90,367.43 331.90,365.31 332.90,362.55 333.90,360.19 334.90,357.91 335.90,355.88 336.90,353.76 337.90,351.36 338.90,349.23 339.90,347.31 340.90,345.00 341.90,343.27 342.90,341.61 343.90,339.69 344.90,337.41 345.90,336.07 346.90,334.00 347.90,332.61 348.90,330.52 349.90,328.74 350.90,327.28 351.90,325.86 352.90,323.99 353.90,322.69 354.90,321.07 355.90,319.37 356.90,317.86 357.90,316.56 358.90,315.09 359.90,313.71 360.90,312.54 361.90,311.37 362.90,309.93 363.90,308.43 364.90,307.27 365.90,306.19 366.90,305.19 367.90,303.79 368.90,302.67 369.90,301.75 370.90,300.69 371.90,299.52 372.90,298.83 373.90,298.08 374.90,296.89 375.90,296.06 376.90,295.18 377.90,294.26 378.90,293.38 379.90,292.19 380.90,291.43 381.90,290.19 382.90,289.74 383.90,288.54 384.90,287.70 385.90,287.04 386.90,285.76 387.90,284.78 388.90,284.23 389.90,283.15 390.90,281.89 391.90,280.88 392.90,280.10 393.90,278.90 394.90,278.40 395.90,277.03 396.90,276.10 397.90,275.21 398.90,274.34 399.90,273.37 400.90,272.60 401.90,271.77 402.90,270.83 403.90,269.87 404.90,269.69 405.90,268.87 406.90,267.92 407.90,267.62 408.90,267.37 409.90,267.15 410.80,266.34 411.60,265.00 412.30,258.30 413.00,268.00 413.40,277.10 414.50,270.50 416.00,272.00 417.80,273.80 420.60,273.30 420.60,273.65 421.60,274.46 422.60,274.94 423.60,275.71 424.60,276.13 425.60,276.28 426.60,276.76 427.60,277.27 428.60,277.84 429.60,277.79 430.60,278.26 431.60,278.41 432.60,279.05 433.60,278.98 434.60,279.81 435.60,279.82 436.60,280.10 437.60,280.03 438.60,280.34 439.60,280.68 440.60,281.10 441.60,281.07 442.60,281.08 443.60,281.64 444.60,281.57 445.60,281.61 446.60,281.52 447.60,281.66 448.60,282.10 449.60,281.71 450.60,282.01 451.60,282.11 452.60,281.98 453.60,282.25 454.60,282.35 455.60,282.33 456.60,282.25 457.60,281.92 458.60,281.82 459.60,282.01 460.60,281.90 461.60,281.79 462.60,282.15 463.60,281.70 464.60,282.00 465.60,282.01 466.60,281.44 467.60,281.84 468.60,281.45 469.60,281.26 470.60,281.15 471.60,280.97 472.60,281.15 473.60,280.99 474.60,281.17 475.60,281.05 476.60,280.48 477.60,280.59 478.60,280.47 479.60,280.24 480.60,280.18 481.60,280.08 482.60,280.24 483.60,279.92 484.60,279.68 485.60,279.65 486.60,279.68 487.60,279.66 488.60,279.38 489.60,279.56 490.60,279.19 491.60,279.38 492.60,279.27 493.60,278.94 494.60,279.21 495.60,278.94 496.60,278.97 497.60,278.96 498.60,278.94 499.60,278.79 500.60,278.53 501.60,278.95 502.60,278.98 503.60,278.76 504.60,278.82 505.60,278.65 506.60,279.05 507.60,278.96 508.60,278.73 509.60,279.15 510.60,279.31 511.50,279.00" fill="none" stroke="#5c88c6" stroke-width="1.9" stroke-linejoin="round" stroke-linecap="round" />
<text x="155.00" y="488.60" font-size="12.6" font-weight="bold" text-anchor="middle" letter-spacing="0.12" stroke="#000" stroke-width="0.22" >FLNA-R19 (30 nM)</text>
<line x1="50.50" y1="491.60" x2="255.60" y2="491.60" stroke="#000" stroke-width="1.6" />
<text x="8.80" y="506.00" font-size="12.3" font-weight="bold" text-anchor="start" letter-spacing="0.05" stroke="#000" stroke-width="0.22" ><tspan font-weight="normal" stroke-width="0.45">β</tspan>-arr2:</text>
<text x="59.80" y="506.30" font-size="11.7" font-weight="bold" text-anchor="middle" letter-spacing="0.25" stroke="#000" stroke-width="0.22" >0</text>
<text x="95.00" y="506.30" font-size="11.7" font-weight="bold" text-anchor="middle" letter-spacing="0.25" stroke="#000" stroke-width="0.22" >1000</text>
<text x="133.70" y="506.30" font-size="11.7" font-weight="bold" text-anchor="middle" letter-spacing="0.25" stroke="#000" stroke-width="0.22" >500</text>
<text x="172.20" y="506.30" font-size="11.7" font-weight="bold" text-anchor="middle" letter-spacing="0.25" stroke="#000" stroke-width="0.22" >250</text>
<text x="208.10" y="506.30" font-size="11.7" font-weight="bold" text-anchor="middle" letter-spacing="0.25" stroke="#000" stroke-width="0.22" >125</text>
<text x="244.60" y="506.30" font-size="11.7" font-weight="bold" text-anchor="middle" letter-spacing="0.25" stroke="#000" stroke-width="0.22" >62.5</text>
<text x="14.00" y="518.80" font-size="12.3" font-weight="bold" text-anchor="start" letter-spacing="0.1" stroke="#000" stroke-width="0.22" >(nM)</text>
<rect x="42.75" y="510.75" width="218.20" height="39.70" fill="#f5f5f5" stroke="#000" stroke-width="2.5"/>
<rect x="46.0" y="529.1" width="25.5" height="3.0" rx="1.5" fill="rgb(90,90,90)" opacity="1.0" filter="url(#b10)"/>
<rect x="80.4" y="530.5" width="28.6" height="3.0" rx="1.5" fill="rgb(125,125,125)" opacity="1.0" filter="url(#b10)"/>
<rect x="119.0" y="530.5" width="27.7" height="3.0" rx="1.5" fill="rgb(120,120,120)" opacity="1.0" filter="url(#b10)"/>
<rect x="156.0" y="531.2" width="28.8" height="3.0" rx="1.5" fill="rgb(118,118,118)" opacity="1.0" filter="url(#b10)"/>
<rect x="193.7" y="532.5" width="25.8" height="3.4" rx="1.7" fill="rgb(80,80,80)" opacity="1.0" filter="url(#b10)"/>
<path d="M228.6,531.7 L254.5,529.1 L254.5,532.3 L228.6,534.9 Z" fill="rgb(70,70,70)" opacity="1.0" filter="url(#b10)"/>
<text x="37.80" y="539.60" font-size="11.8" font-weight="normal" text-anchor="end" letter-spacing="0.4" stroke="#000" stroke-width="0.45" >10</text>
<line x1="26.00" y1="541.20" x2="41.50" y2="541.20" stroke="#000" stroke-width="1.4" />
<text x="151.60" y="566.40" font-size="11.6" font-weight="bold" text-anchor="middle" letter-spacing="0.45" stroke="#000" stroke-width="0.22" >w.b.: 6xHis (His-FLNA-R19)</text>
<rect x="42.45" y="570.85" width="218.90" height="40.70" fill="#f6f6f6" stroke="#000" stroke-width="2.5"/>
<rect x="86.5" y="592" width="27.0" height="17" fill="rgb(222,222,222)" filter="url(#b20)"/>
<rect x="121.5" y="592" width="27.0" height="17" fill="rgb(220,220,220)" filter="url(#b20)"/>
<rect x="157" y="592" width="29" height="17" fill="rgb(234,234,234)" filter="url(#b20)"/>
<rect x="194" y="592" width="27" height="17" fill="rgb(234,234,234)" filter="url(#b20)"/>
<rect x="86.2" y="586.7" width="27.5" height="4.2" rx="2.1" fill="rgb(30,30,30)" opacity="1.0" filter="url(#b10)"/>
<rect x="121.2" y="586.7" width="27.5" height="4.2" rx="2.1" fill="rgb(30,30,30)" opacity="1.0" filter="url(#b10)"/>
<rect x="157.0" y="587.4" width="29.2" height="3.6" rx="1.8" fill="rgb(80,80,80)" opacity="1.0" filter="url(#b10)"/>
<rect x="193.8" y="587.6" width="27.5" height="3.6" rx="1.8" fill="rgb(82,82,82)" opacity="1.0" filter="url(#b10)"/>
<path d="M230.0,589.0 L252.5,587.0 L252.5,589.8 L230.0,591.8 Z" fill="rgb(140,140,140)" opacity="1.0" filter="url(#b10)"/>
<text x="38.80" y="587.00" font-size="11" font-weight="normal" text-anchor="end" letter-spacing="0.4" stroke="#000" stroke-width="0.45" >72</text>
<line x1="30.00" y1="589.30" x2="41.20" y2="589.30" stroke="#000" stroke-width="1.3" />
<text x="151.30" y="626.00" font-size="11.8" font-weight="bold" text-anchor="middle" letter-spacing="0.3" stroke="#000" stroke-width="0.22" >w.b.: GST (<tspan font-weight="normal" stroke-width="0.45">β</tspan>-arr2)</text>
<line x1="317.40" y1="465.00" x2="317.40" y2="603.50" stroke="#000" stroke-width="2.2" />
<line x1="312.40" y1="465.00" x2="320.40" y2="465.00" stroke="#000" stroke-width="2" />
<text x="311.80" y="468.80" font-size="10.8" font-weight="bold" text-anchor="end" letter-spacing="0.3" stroke="#000" stroke-width="0.22" >100</text>
<line x1="312.40" y1="492.30" x2="320.40" y2="492.30" stroke="#000" stroke-width="2" />
<text x="311.80" y="496.10" font-size="10.8" font-weight="bold" text-anchor="end" letter-spacing="0.3" stroke="#000" stroke-width="0.22" >80</text>
<line x1="312.40" y1="519.60" x2="320.40" y2="519.60" stroke="#000" stroke-width="2" />
<text x="311.80" y="523.40" font-size="10.8" font-weight="bold" text-anchor="end" letter-spacing="0.3" stroke="#000" stroke-width="0.22" >60</text>
<line x1="312.40" y1="546.90" x2="320.40" y2="546.90" stroke="#000" stroke-width="2" />
<text x="311.80" y="550.70" font-size="10.8" font-weight="bold" text-anchor="end" letter-spacing="0.3" stroke="#000" stroke-width="0.22" >40</text>
<line x1="312.40" y1="574.20" x2="320.40" y2="574.20" stroke="#000" stroke-width="2" />
<text x="311.80" y="578.00" font-size="10.8" font-weight="bold" text-anchor="end" letter-spacing="0.3" stroke="#000" stroke-width="0.22" >20</text>
<line x1="312.20" y1="601.60" x2="471.50" y2="601.60" stroke="#000" stroke-width="2.3" />
<line x1="393.80" y1="601.60" x2="393.80" y2="605.50" stroke="#000" stroke-width="2" />
<line x1="470.50" y1="601.60" x2="470.50" y2="605.50" stroke="#000" stroke-width="2" />
<line x1="333.40" y1="608.60" x2="340.10" y2="595.10" stroke="#000" stroke-width="1.5" />
<line x1="335.90" y1="608.60" x2="342.60" y2="595.10" stroke="#000" stroke-width="1.5" />
<text x="317.10" y="614.20" font-size="11.2" font-weight="normal" text-anchor="middle" letter-spacing="0" stroke="#000" stroke-width="0.4" >0</text>
<text x="396.00" y="616.40" font-size="11.2" font-weight="normal" text-anchor="middle" letter-spacing="0" stroke="#000" stroke-width="0.4" >10<tspan font-size="7.2" dy="-4.5">2</tspan></text>
<text x="473.50" y="616.40" font-size="11.2" font-weight="normal" text-anchor="middle" letter-spacing="0" stroke="#000" stroke-width="0.4" >10<tspan font-size="7.2" dy="-4.5">3</tspan></text>
<text x="403.00" y="629.50" font-size="12.6" font-weight="bold" text-anchor="middle" letter-spacing="0" stroke="#000" stroke-width="0.22" ><tspan font-weight="normal" stroke-width="0.45">β</tspan>-arr2 (nM)</text>
<text transform="translate(289.30,535.80) rotate(-90)" font-size="11.2" font-weight="bold" text-anchor="middle" dominant-baseline="central" letter-spacing="0.35" stroke="#000" stroke-width="0.15">FLNA R19 ratio (%)</text>
<polyline points="378.3,469 401.25,485 425,490.75 447.5,534.5 470.5,548.25" fill="none" stroke="#000" stroke-width="2.1"/>
<line x1="317.60" y1="476.20" x2="340.30" y2="473.51" stroke="#000" stroke-width="2.1" />
<line x1="345.30" y1="472.91" x2="378.30" y2="469.00" stroke="#000" stroke-width="2.1" />
<line x1="337.80" y1="480.60" x2="344.20" y2="467.00" stroke="#000" stroke-width="1.5" />
<line x1="340.60" y1="480.60" x2="347.00" y2="467.00" stroke="#000" stroke-width="1.5" />
<line x1="317.60" y1="460.20" x2="317.60" y2="490.00" stroke="#000" stroke-width="1.8" />
<line x1="314.30" y1="460.20" x2="320.90" y2="460.20" stroke="#000" stroke-width="1.8" />
<line x1="314.30" y1="490.00" x2="320.90" y2="490.00" stroke="#000" stroke-width="1.8" />
<line x1="378.30" y1="463.80" x2="378.30" y2="473.80" stroke="#000" stroke-width="1.8" />
<line x1="375.00" y1="463.80" x2="381.60" y2="463.80" stroke="#000" stroke-width="1.8" />
<line x1="375.00" y1="473.80" x2="381.60" y2="473.80" stroke="#000" stroke-width="1.8" />
<line x1="401.25" y1="483.00" x2="401.25" y2="487.00" stroke="#000" stroke-width="1.8" />
<line x1="397.95" y1="483.00" x2="404.55" y2="483.00" stroke="#000" stroke-width="1.8" />
<line x1="397.95" y1="487.00" x2="404.55" y2="487.00" stroke="#000" stroke-width="1.8" />
<line x1="425.00" y1="481.80" x2="425.00" y2="497.80" stroke="#000" stroke-width="1.8" />
<line x1="421.70" y1="481.80" x2="428.30" y2="481.80" stroke="#000" stroke-width="1.8" />
<line x1="421.70" y1="497.80" x2="428.30" y2="497.80" stroke="#000" stroke-width="1.8" />
<line x1="447.50" y1="521.30" x2="447.50" y2="548.80" stroke="#000" stroke-width="1.8" />
<line x1="444.20" y1="521.30" x2="450.80" y2="521.30" stroke="#000" stroke-width="1.8" />
<line x1="444.20" y1="548.80" x2="450.80" y2="548.80" stroke="#000" stroke-width="1.8" />
<line x1="470.50" y1="534.50" x2="470.50" y2="562.50" stroke="#000" stroke-width="1.8" />
<line x1="467.20" y1="534.50" x2="473.80" y2="534.50" stroke="#000" stroke-width="1.8" />
<line x1="467.20" y1="562.50" x2="473.80" y2="562.50" stroke="#000" stroke-width="1.8" />
<rect x="314.10" y="472.70" width="7" height="7" fill="#000"/>
<rect x="374.80" y="465.50" width="7" height="7" fill="#000"/>
<rect x="397.75" y="481.50" width="7" height="7" fill="#000"/>
<rect x="421.50" y="487.25" width="7" height="7" fill="#000"/>
<rect x="444.00" y="531.00" width="7" height="7" fill="#000"/>
<rect x="467.00" y="544.75" width="7" height="7" fill="#000"/>
<text x="447.30" y="522.50" font-size="15" font-weight="bold" text-anchor="middle" letter-spacing="0.3" stroke="#000" stroke-width="0.22" >*</text>
<text x="470.30" y="535.00" font-size="15" font-weight="bold" text-anchor="middle" letter-spacing="0.3" stroke="#000" stroke-width="0.22" >*</text>
<text x="78.80" y="651.30" font-size="11.3" font-weight="bold" text-anchor="middle" letter-spacing="0" stroke="#000" stroke-width="0.22" >Mock</text>
<text x="107.50" y="651.30" font-size="11.5" font-weight="bold" text-anchor="middle" letter-spacing="0" stroke="#000" stroke-width="0.22" >1</text>
<text x="136.30" y="651.30" font-size="11.5" font-weight="bold" text-anchor="middle" letter-spacing="0" stroke="#000" stroke-width="0.22" >2</text>
<text x="165.00" y="651.30" font-size="11.5" font-weight="bold" text-anchor="middle" letter-spacing="0" stroke="#000" stroke-width="0.22" >3</text>
<rect x="61.25" y="655.75" width="117.50" height="37.50" fill="#f1f1f1" stroke="#000" stroke-width="2.5"/>
<rect x="70" y="662" width="24" height="30" fill="rgb(226,226,226)" filter="url(#b20)"/>
<rect x="97" y="660" width="23" height="32" fill="rgb(222,222,222)" filter="url(#b20)"/>
<rect x="126" y="660" width="25" height="32" fill="rgb(212,212,212)" filter="url(#b20)"/>
<rect x="155" y="660" width="22" height="32" fill="rgb(204,204,204)" filter="url(#b20)"/>
<rect x="128" y="676" width="22" height="14" fill="rgb(190,190,190)" filter="url(#b30)"/>
<rect x="156" y="676" width="21" height="14" fill="rgb(175,175,175)" filter="url(#b30)"/>
<rect x="72.0" y="672.3" width="20.0" height="2.2" rx="1.1" fill="rgb(100,100,100)" opacity="1.0" filter="url(#b10)"/>
<rect x="72.0" y="687.8" width="20.0" height="2.4" rx="1.2" fill="rgb(120,120,120)" opacity="1.0" filter="url(#b10)"/>
<rect x="99.5" y="670.7" width="19.0" height="2.6" rx="1.3" fill="rgb(140,140,140)" opacity="1.0" filter="url(#b12)"/>
<rect x="128.0" y="668.6" width="21.0" height="4.0" rx="2.0" fill="rgb(48,48,48)" opacity="1.0" filter="url(#b12)"/>
<rect x="128.0" y="686.5" width="21.0" height="3.0" rx="1.5" fill="rgb(165,165,165)" opacity="1.0" filter="url(#b15)"/>
<rect x="157.5" y="667.1" width="19.0" height="4.4" rx="2.2" fill="rgb(12,12,12)" opacity="1.0" filter="url(#b10)"/>
<rect x="157.5" y="684.2" width="18.5" height="4.0" rx="2.0" fill="rgb(140,140,140)" opacity="1.0" filter="url(#b20)"/>
<text x="57.70" y="684.20" font-size="11" font-weight="normal" text-anchor="end" letter-spacing="0.4" stroke="#000" stroke-width="0.45" >250</text>
<line x1="49.00" y1="686.20" x2="60.00" y2="686.20" stroke="#000" stroke-width="1.3" />
<text x="122.20" y="710.00" font-size="12" font-weight="bold" text-anchor="middle" letter-spacing="0.3" stroke="#000" stroke-width="0.22" xml:space="preserve">l.p.: <tspan font-weight="normal" stroke-width="0.45">β</tspan>-arr2  w.b.: FLNA</text>
<rect x="62.45" y="717.45" width="116.30" height="50.80" fill="#d3d3d3" stroke="#000" stroke-width="2.5"/>
<rect x="90" y="719" width="7" height="48" fill="rgb(232,232,232)" filter="url(#b20)"/>
<rect x="121" y="719" width="4" height="48" fill="rgb(232,232,232)" filter="url(#b20)"/>
<rect x="150" y="719" width="7" height="48" fill="rgb(236,236,236)" filter="url(#b20)"/>
<rect x="66.0" y="731.1" width="23.0" height="2.8" rx="1.4" fill="rgb(62,62,62)" opacity="1.0" filter="url(#b10)"/>
<rect x="99.0" y="730.6" width="21.0" height="3.6" rx="1.8" fill="rgb(18,18,18)" opacity="1.0" filter="url(#b10)"/>
<rect x="98.5" y="749.2" width="19.5" height="4.6" rx="2.3" fill="rgb(135,135,135)" opacity="1.0" filter="url(#b15)"/>
<rect x="125.0" y="730.8" width="23.0" height="3.4" rx="1.7" fill="rgb(70,70,70)" opacity="1.0" filter="url(#b12)"/>
<rect x="128.0" y="751.0" width="20.0" height="3.0" rx="1.5" fill="rgb(175,175,175)" opacity="1.0" filter="url(#b15)"/>
<rect x="158.5" y="730.9" width="17.5" height="3.2" rx="1.6" fill="rgb(110,110,110)" opacity="1.0" filter="url(#b12)"/>
<rect x="158.5" y="751.0" width="17.5" height="3.0" rx="1.5" fill="rgb(170,170,170)" opacity="1.0" filter="url(#b15)"/>
<rect x="67.0" y="751.0" width="22.0" height="3.0" rx="1.5" fill="rgb(190,190,190)" opacity="1.0" filter="url(#b15)"/>
<text x="57.70" y="718.80" font-size="11" font-weight="normal" text-anchor="end" letter-spacing="0.4" stroke="#000" stroke-width="0.45" >75</text>
<line x1="52.00" y1="720.80" x2="62.00" y2="720.80" stroke="#000" stroke-width="1.3" />
<text x="58.50" y="765.80" font-size="11" font-weight="normal" text-anchor="end" letter-spacing="0.4" stroke="#000" stroke-width="0.45" >55</text>
<line x1="51.00" y1="767.30" x2="62.00" y2="767.30" stroke="#000" stroke-width="1.3" />
<text x="44.60" y="738.20" font-size="11.6" font-weight="normal" text-anchor="end" letter-spacing="0" stroke="#000" stroke-width="0.4" >β-arr2</text>
<text x="44.60" y="755.40" font-size="11.6" font-weight="normal" text-anchor="end" letter-spacing="0" stroke="#000" stroke-width="0.4" >X4</text>
<polygon points="49,730 61.5,733.8 49,737.6" fill="#000"/>
<polygon points="49,747.4 61.5,751.2 49,755" fill="#000"/>
<text x="124.40" y="781.50" font-size="12" font-weight="bold" text-anchor="middle" letter-spacing="0.3" stroke="#000" stroke-width="0.22" xml:space="preserve">i.p.: <tspan font-weight="normal" stroke-width="0.45">β</tspan>-arr2  w.b.: GFP</text>
<line x1="237.00" y1="633.70" x2="237.00" y2="769.50" stroke="#000" stroke-width="2.2" />
<line x1="233.40" y1="769.50" x2="237.00" y2="769.50" stroke="#000" stroke-width="2" />
<line x1="233.40" y1="750.12" x2="237.00" y2="750.12" stroke="#000" stroke-width="2" />
<line x1="233.40" y1="730.75" x2="237.00" y2="730.75" stroke="#000" stroke-width="2" />
<line x1="233.40" y1="711.38" x2="237.00" y2="711.38" stroke="#000" stroke-width="2" />
<line x1="233.40" y1="692.00" x2="237.00" y2="692.00" stroke="#000" stroke-width="2" />
<line x1="233.40" y1="672.62" x2="237.00" y2="672.62" stroke="#000" stroke-width="2" />
<line x1="233.40" y1="653.25" x2="237.00" y2="653.25" stroke="#000" stroke-width="2" />
<line x1="233.40" y1="633.88" x2="237.00" y2="633.88" stroke="#000" stroke-width="2" />
<text x="231.80" y="773.60" font-size="11.5" font-weight="bold" text-anchor="end" letter-spacing="0" stroke="#000" stroke-width="0.22" >0</text>
<text x="231.80" y="734.85" font-size="11.5" font-weight="bold" text-anchor="end" letter-spacing="0" stroke="#000" stroke-width="0.22" >1</text>
<text x="231.80" y="696.10" font-size="11.5" font-weight="bold" text-anchor="end" letter-spacing="0" stroke="#000" stroke-width="0.22" >2</text>
<text x="231.80" y="657.35" font-size="11.5" font-weight="bold" text-anchor="end" letter-spacing="0" stroke="#000" stroke-width="0.22" >3</text>
<line x1="237.00" y1="769.50" x2="293.00" y2="769.50" stroke="#000" stroke-width="2.2" />
<line x1="255.50" y1="769.50" x2="255.50" y2="773.50" stroke="#000" stroke-width="2" />
<line x1="274.00" y1="769.50" x2="274.00" y2="773.50" stroke="#000" stroke-width="2" />
<line x1="292.00" y1="769.50" x2="292.00" y2="773.50" stroke="#000" stroke-width="2" />
<line x1="246.60" y1="653.70" x2="246.60" y2="640.50" stroke="#000" stroke-width="1.8" />
<line x1="243.80" y1="640.50" x2="249.40" y2="640.50" stroke="#000" stroke-width="1.8" />
<rect x="241.2" y="653.7" width="10.800000000000011" height="115.79999999999995" fill="#000"/>
<line x1="263.80" y1="718.00" x2="263.80" y2="712.00" stroke="#000" stroke-width="1.8" />
<line x1="261.00" y1="712.00" x2="266.60" y2="712.00" stroke="#000" stroke-width="1.8" />
<rect x="258.8" y="718" width="10.0" height="51.5" fill="#000"/>
<line x1="283.55" y1="700.00" x2="283.55" y2="696.20" stroke="#000" stroke-width="1.8" />
<line x1="280.75" y1="696.20" x2="286.35" y2="696.20" stroke="#000" stroke-width="1.8" />
<rect x="278.8" y="700" width="9.5" height="69.5" fill="#000"/>
<text x="245.50" y="784.50" font-size="11.5" font-weight="bold" text-anchor="middle" letter-spacing="0" stroke="#000" stroke-width="0.22" >1</text>
<text x="264.50" y="784.50" font-size="11.5" font-weight="bold" text-anchor="middle" letter-spacing="0" stroke="#000" stroke-width="0.22" >2</text>
<text x="283.80" y="784.50" font-size="11.5" font-weight="bold" text-anchor="middle" letter-spacing="0" stroke="#000" stroke-width="0.22" >3</text>
<text x="263.80" y="712.50" font-size="13.5" font-weight="bold" text-anchor="middle" letter-spacing="0.3" stroke="#000" stroke-width="0.22" >**</text>
<text x="283.80" y="697.50" font-size="13.5" font-weight="bold" text-anchor="middle" letter-spacing="0.3" stroke="#000" stroke-width="0.22" >*</text>
<text transform="translate(218.20,702.50) rotate(-90)" font-size="12.4" font-weight="bold" text-anchor="middle" dominant-baseline="central" letter-spacing="0.35" stroke="#000" stroke-width="0.15"><tspan font-weight="normal" stroke-width="0.45">β</tspan>-arr2/X4 ratio</text>
<rect x="306.9" y="661.6" width="122.9" height="59.9" fill="none" stroke="#000" stroke-width="1.4"/>
<text x="317.30" y="678.80" font-size="12" font-weight="normal" text-anchor="start" letter-spacing="0.6" stroke="#000" stroke-width="0.4" >1: X4<tspan font-size="7.3" font-weight="bold" dy="-4.5">WHIM</tspan></text>
<text x="317.30" y="695.60" font-size="12" font-weight="normal" text-anchor="start" letter-spacing="0.6" stroke="#000" stroke-width="0.4" >2: X4<tspan font-size="7.3" font-weight="bold" dy="-4.5">WHIM</tspan><tspan dy="4.5">-ICL3ΔNt</tspan></text>
<text x="317.30" y="711.00" font-size="12" font-weight="normal" text-anchor="start" letter-spacing="0.6" stroke="#000" stroke-width="0.4" >3: X4<tspan font-size="7.3" font-weight="bold" dy="-4.5">WHIM</tspan><tspan dy="4.5">-ICL3ΔCt</tspan></text>
</svg>
</body></html>
